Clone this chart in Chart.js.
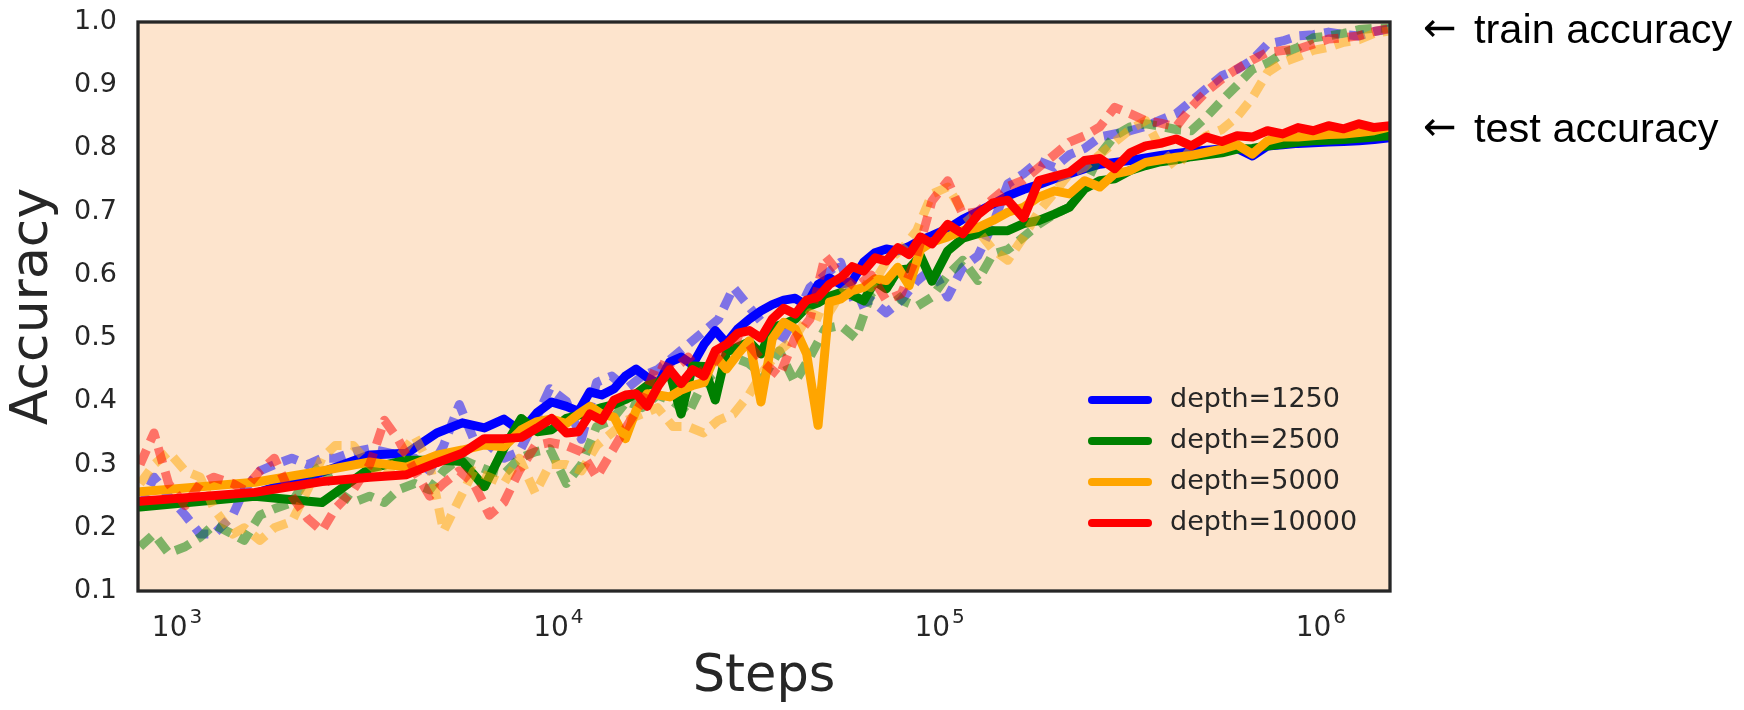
<!DOCTYPE html>
<html>
<head>
<meta charset="utf-8">
<title>Accuracy vs steps</title>
<script src="https://cdn.jsdelivr.net/npm/chart.js@4.4.1/dist/chart.umd.min.js"></script>
<style>
  html, body { margin: 0; padding: 0; background: #ffffff; }
  canvas { display: block; }
</style>
</head>
<body>
<canvas id="accuracyChart" width="1744" height="710"></canvas>
<script>
// ---- data ----
const depthLabels = ['depth=1250', 'depth=2500', 'depth=5000', 'depth=10000'];
const decadeTicks = [1e3, 1e4, 1e5, 1e6];
const accuracyTicks = [0.1, 0.2, 0.3, 0.4, 0.5, 0.6, 0.7, 0.8, 0.9, 1.0];

// evaluation steps for test accuracy
const testSteps = [
  800, 1600, 2400, 3200, 4000, 4800, 5600, 6400, 7200, 8000,
  8800, 9600, 10500, 11300, 12100, 13000, 14000, 15000, 16000, 17100,
  18300, 19600, 21000, 22500, 24100, 25800, 27600, 29600, 31700, 34000,
  36400, 39000, 41800, 44800, 48000, 51400, 55100, 59000, 63200, 67700,
  72500, 77700, 83200, 89100, 95500, 105000, 115000, 126000, 138000, 151000,
  166000, 182000, 200000, 219000, 240000, 263000, 288000, 316000, 347000, 380000,
  417000, 457000, 501000, 550000, 603000, 661000, 724000, 794000, 871000, 955000,
  1047000, 1148000, 1259000, 1380000, 1518000
];

const testDepth1250 = [
  0.235, 0.254, 0.288, 0.315, 0.318, 0.350, 0.366, 0.358, 0.372, 0.352,
  0.382, 0.399, 0.392, 0.384, 0.415, 0.410, 0.420, 0.440, 0.451, 0.438,
  0.428, 0.462, 0.470, 0.458, 0.490, 0.512, 0.492, 0.515, 0.530, 0.543,
  0.553, 0.560, 0.563, 0.552, 0.585, 0.595, 0.585, 0.590, 0.620, 0.635,
  0.641, 0.638, 0.645, 0.655, 0.662, 0.673, 0.688, 0.700, 0.712, 0.725,
  0.735, 0.743, 0.752, 0.760, 0.768, 0.775, 0.778, 0.781, 0.785, 0.789,
  0.792, 0.795, 0.797, 0.799, 0.800, 0.788, 0.804, 0.806, 0.808, 0.809,
  0.810, 0.811, 0.812, 0.814, 0.817
];
const testDepth2500 = [
  0.233, 0.250, 0.240, 0.294, 0.307, 0.307, 0.305, 0.265, 0.326, 0.373,
  0.352, 0.355, 0.373, 0.378, 0.384, 0.390, 0.395, 0.403, 0.412, 0.425,
  0.430, 0.445, 0.380, 0.456, 0.455, 0.402, 0.478, 0.486, 0.494, 0.475,
  0.517, 0.522, 0.530, 0.549, 0.556, 0.566, 0.572, 0.568, 0.559, 0.590,
  0.578, 0.607, 0.610, 0.630, 0.590, 0.638, 0.658, 0.665, 0.670, 0.670,
  0.681, 0.686, 0.696, 0.707, 0.736, 0.749, 0.752, 0.765, 0.773, 0.779,
  0.782, 0.787, 0.790, 0.793, 0.799, 0.800, 0.804, 0.807, 0.810, 0.812,
  0.813, 0.814, 0.816, 0.818, 0.820
];
const testDepth5000 = [
  0.257, 0.272, 0.290, 0.304, 0.296, 0.315, 0.323, 0.331, 0.328, 0.355,
  0.368, 0.372, 0.365, 0.380, 0.392, 0.380, 0.375, 0.341, 0.386, 0.412,
  0.410, 0.407, 0.418, 0.425, 0.430, 0.472, 0.451, 0.475, 0.496, 0.399,
  0.499, 0.525, 0.515, 0.475, 0.362, 0.557, 0.562, 0.575, 0.580, 0.594,
  0.591, 0.612, 0.583, 0.640, 0.652, 0.660, 0.670, 0.675, 0.686, 0.699,
  0.707, 0.723, 0.733, 0.728, 0.749, 0.739, 0.760, 0.765, 0.778, 0.782,
  0.786, 0.789, 0.794, 0.799, 0.806, 0.791, 0.812, 0.818, 0.818, 0.820,
  0.822, 0.823, 0.825, 0.828, 0.834
];
const testDepth10000 = [
  0.242, 0.256, 0.273, 0.280, 0.284, 0.303, 0.318, 0.341, 0.341, 0.343,
  0.358, 0.373, 0.350, 0.352, 0.380, 0.370, 0.402, 0.410, 0.412, 0.392,
  0.425, 0.450, 0.428, 0.450, 0.440, 0.480, 0.490, 0.508, 0.512, 0.500,
  0.530, 0.547, 0.538, 0.560, 0.565, 0.585, 0.596, 0.613, 0.606, 0.627,
  0.622, 0.643, 0.632, 0.660, 0.649, 0.680, 0.665, 0.695, 0.714, 0.718,
  0.690, 0.749, 0.756, 0.762, 0.781, 0.784, 0.768, 0.793, 0.804, 0.808,
  0.815, 0.804, 0.818, 0.811, 0.820, 0.818, 0.828, 0.823, 0.833, 0.828,
  0.836, 0.831, 0.839, 0.833, 0.836
];

// evaluation steps for train accuracy
const trainSteps = [
  800, 870, 950, 1050, 1150, 1250, 1400, 1500, 1650, 1800,
  2000, 2200, 2400, 2600, 2900, 3200, 3500, 3800, 4200, 4600,
  5000, 5500, 6000, 6600, 7200, 7900, 8700, 9500, 10500, 11500,
  12600, 13800, 15100, 16600, 18200, 20000, 21900, 24000, 26300, 28800,
  31600, 34700, 38000, 41700, 45700, 50100, 55000, 60300, 66100, 72400,
  79400, 87100, 95500, 105000, 115000, 126000, 138000, 151000, 166000, 182000,
  200000, 219000, 240000, 263000, 288000, 316000, 347000, 380000, 417000, 457000,
  501000, 550000, 603000, 661000, 724000, 794000, 871000, 955000, 1047000, 1148000,
  1259000, 1380000, 1518000
];

const trainDepth1250 = [
  0.23, 0.28, 0.25, 0.22, 0.19, 0.19, 0.22, 0.26, 0.29, 0.30,
  0.31, 0.30, 0.31, 0.31, 0.32, 0.325, 0.32, 0.315, 0.31, 0.29,
  0.33, 0.395, 0.34, 0.33, 0.31, 0.32, 0.37, 0.42, 0.40, 0.34,
  0.43, 0.44, 0.42, 0.44, 0.45, 0.47, 0.49, 0.51, 0.53, 0.58,
  0.55, 0.52, 0.49, 0.53, 0.58, 0.60, 0.62, 0.55, 0.56, 0.54,
  0.56, 0.59, 0.61, 0.565, 0.612, 0.63, 0.68, 0.744, 0.76, 0.78,
  0.77, 0.79, 0.80, 0.818, 0.823, 0.828, 0.835, 0.845, 0.855, 0.875,
  0.895, 0.915, 0.925, 0.94, 0.965, 0.97, 0.978, 0.98, 0.984, 0.98,
  0.978, 0.985, 0.989
];
const trainDepth2500 = [
  0.17, 0.19, 0.16, 0.17, 0.185, 0.205, 0.19, 0.18, 0.22, 0.23,
  0.24, 0.28, 0.30, 0.26, 0.24, 0.25, 0.24, 0.26, 0.27, 0.26,
  0.29, 0.31, 0.30, 0.29, 0.285, 0.31, 0.32, 0.325, 0.27, 0.30,
  0.36, 0.37, 0.40, 0.39, 0.41, 0.40, 0.38, 0.43, 0.45, 0.47,
  0.46, 0.44, 0.48, 0.43, 0.47, 0.515, 0.52, 0.50, 0.57, 0.59,
  0.56, 0.55, 0.565, 0.60, 0.623, 0.591, 0.633, 0.64, 0.66, 0.68,
  0.696, 0.707, 0.74, 0.79, 0.82, 0.834, 0.839, 0.835, 0.83, 0.828,
  0.85, 0.876, 0.90, 0.925, 0.935, 0.95, 0.96, 0.975, 0.978, 0.982,
  0.988, 0.99, 0.99
];
const trainDepth5000 = [
  0.27, 0.30, 0.32, 0.29, 0.28, 0.23, 0.19, 0.20, 0.18, 0.20,
  0.21, 0.26, 0.31, 0.33, 0.33, 0.30, 0.28, 0.31, 0.345, 0.30,
  0.195, 0.245, 0.29, 0.28, 0.27, 0.31, 0.255, 0.30, 0.30, 0.29,
  0.33, 0.35, 0.37, 0.38, 0.39, 0.36, 0.36, 0.35, 0.37, 0.38,
  0.41, 0.45, 0.48, 0.50, 0.54, 0.53, 0.57, 0.59, 0.58, 0.62,
  0.64, 0.67, 0.728, 0.739, 0.70, 0.67, 0.64, 0.623, 0.66, 0.70,
  0.73, 0.76, 0.77, 0.79, 0.81, 0.83, 0.844, 0.80, 0.77, 0.80,
  0.82, 0.83, 0.85, 0.88, 0.92, 0.936, 0.945, 0.955, 0.96, 0.968,
  0.972, 0.982, 0.986
];
const trainDepth10000 = [
  0.30, 0.35, 0.27, 0.235, 0.27, 0.28, 0.27, 0.26, 0.29, 0.31,
  0.25, 0.215, 0.195, 0.23, 0.26, 0.30, 0.37, 0.34, 0.29, 0.25,
  0.27, 0.29, 0.27, 0.22, 0.24, 0.29, 0.33, 0.335, 0.33, 0.32,
  0.28, 0.32, 0.36, 0.40, 0.46, 0.45, 0.47, 0.44, 0.47, 0.50,
  0.49, 0.46, 0.44, 0.50, 0.53, 0.63, 0.60, 0.58, 0.60, 0.56,
  0.57, 0.63, 0.717, 0.749, 0.696, 0.70, 0.72, 0.74, 0.75, 0.77,
  0.79, 0.81, 0.82, 0.834, 0.865, 0.855, 0.844, 0.84, 0.834, 0.865,
  0.89, 0.91, 0.926, 0.94, 0.952, 0.955, 0.957, 0.965, 0.973, 0.975,
  0.978, 0.985, 0.99
];

// ---- styling ----
const lineColors = ['0, 0, 255', '0, 128, 0', '255, 165, 0', '255, 0, 0'];
const textColor = '#262626';
const plotBackground = '#fde4cd';

const testSeries = [testDepth1250, testDepth2500, testDepth5000, testDepth10000];
const trainSeries = [trainDepth1250, trainDepth2500, trainDepth5000, trainDepth10000];

const toPoints = (steps, values) => steps.map((x, i) => ({ x, y: values[i] }));

const datasets = [];
depthLabels.forEach((label, i) => {
  datasets.push({
    label,
    data: toPoints(testSteps, testSeries[i]),
    borderColor: `rgb(${lineColors[i]})`,
    borderWidth: 9,
    borderCapStyle: 'round',
    borderJoinStyle: 'round'
  });
  datasets.push({
    label: label + ' train',
    isTrain: true,
    data: toPoints(trainSteps, trainSeries[i]),
    borderColor: `rgba(${lineColors[i]}, 0.5)`,
    borderWidth: 9,
    borderDash: [16, 9],
    borderCapStyle: 'butt',
    borderJoinStyle: 'round'
  });
});
// later depths are painted over earlier ones
datasets.forEach((d, k) => { d.order = datasets.length - k; });

// background, frame, legend, decade labels and side notes
const plotDecor = {
  id: 'plotDecor',
  beforeDraw(chart) {
    const { ctx, chartArea: a } = chart;
    ctx.save();
    ctx.fillStyle = '#ffffff';
    ctx.fillRect(0, 0, chart.width, chart.height);
    ctx.fillStyle = plotBackground;
    ctx.fillRect(a.left, a.top, a.right - a.left, a.bottom - a.top);
    ctx.restore();
  },
  afterDatasetsDraw(chart) {
    const { ctx, chartArea: a, scales } = chart;
    ctx.save();

    // axes frame
    ctx.strokeStyle = textColor;
    ctx.lineWidth = 3.3;
    ctx.strokeRect(a.left, a.top, a.right - a.left, a.bottom - a.top);

    // legend (test curves only)
    const rows = chart.data.datasets.filter(d => !d.isTrain);
    ctx.lineWidth = 8;
    ctx.lineCap = 'round';
    ctx.font = '27px "DejaVu Sans"';
    ctx.textBaseline = 'middle';
    ctx.textAlign = 'left';
    rows.forEach((d, i) => {
      const y = a.bottom - 191 + i * 41;
      ctx.strokeStyle = d.borderColor;
      ctx.beginPath();
      ctx.moveTo(a.right - 298, y);
      ctx.lineTo(a.right - 242, y);
      ctx.stroke();
      ctx.fillStyle = textColor;
      ctx.fillText(d.label, a.right - 220, y);
    });

    // x tick labels as 10 with a raised exponent
    const xs = scales.x;
    const baseY = a.bottom + 45;
    ctx.textBaseline = 'alphabetic';
    ctx.fillStyle = textColor;
    xs.ticks.forEach(t => {
      const exp = String(Math.round(Math.log10(t.value)));
      ctx.font = '28px "DejaVu Sans"';
      const wBase = ctx.measureText('10').width;
      ctx.font = '20px "DejaVu Sans"';
      const wExp = ctx.measureText(exp).width;
      const left = xs.getPixelForValue(t.value) - (wBase + wExp + 2) / 2;
      ctx.font = '28px "DejaVu Sans"';
      ctx.fillText('10', left, baseY);
      ctx.font = '20px "DejaVu Sans"';
      ctx.fillText(exp, left + wBase + 2, baseY - 13);
    });

    // notes to the right of the axes
    const ys = scales.y;
    const notes = [['train accuracy', 0.966], ['test accuracy', 0.810]];
    ctx.fillStyle = '#000000';
    notes.forEach(([text, at]) => {
      const y = ys.getPixelForValue(at);
      ctx.font = '40px "DejaVu Sans"';
      ctx.fillText('\u2190', a.right + 33, y - 2);
      ctx.font = '41.5px "Liberation Sans", Arial, sans-serif';
      ctx.fillText(text, a.right + 84, y);
    });
    ctx.restore();
  }
};

Chart.defaults.font.family = '"DejaVu Sans", sans-serif';

new Chart(document.getElementById('accuracyChart'), {
  type: 'line',
  data: { datasets },
  options: {
    responsive: false,
    devicePixelRatio: 1,
    animation: false,
    layout: { padding: { top: 22, right: 354, bottom: 0, left: 0 } },
    elements: {
      point: { radius: 0, hoverRadius: 0 },
      line: { tension: 0, fill: false }
    },
    datasets: { line: { clip: 0 } },
    plugins: {
      legend: { display: false },
      tooltip: { enabled: false }
    },
    scales: {
      x: {
        type: 'logarithmic',
        min: 790,
        max: 1518000,
        afterBuildTicks: s => { s.ticks = decadeTicks.map(v => ({ value: v })); },
        afterFit: s => { s.height = 119; s.paddingLeft = 0; s.paddingRight = 0; },
        grid: { display: false, drawTicks: false },
        border: { display: false },
        ticks: { display: false },
        title: {
          display: true,
          text: 'Steps',
          color: textColor,
          font: { size: 51 },
          padding: { top: 0, bottom: 2 }
        }
      },
      y: {
        min: 0.1,
        max: 1.0,
        afterBuildTicks: s => { s.ticks = accuracyTicks.map(v => ({ value: v })); },
        afterFit: s => { s.width = 138; s.paddingTop = 0; s.paddingBottom = 0; },
        grid: { display: false, drawTicks: false },
        border: { display: false },
        ticks: {
          padding: 21,
          color: textColor,
          font: { size: 27 },
          callback: v => Number(v).toFixed(1)
        },
        title: {
          display: true,
          text: 'Accuracy',
          color: textColor,
          font: { size: 52 },
          padding: { top: 2, bottom: 0 }
        }
      }
    }
  },
  plugins: [plotDecor]
});
</script>
</body>
</html>
